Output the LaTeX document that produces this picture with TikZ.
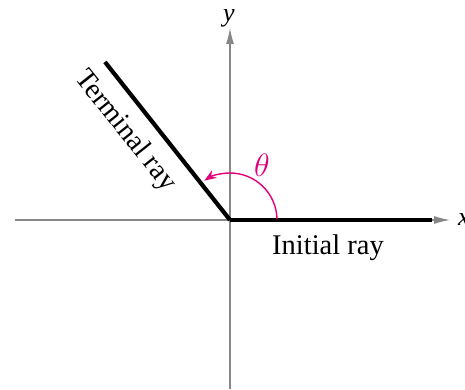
\documentclass[tikz,border=0pt]{standalone}
\usepackage{fontspec}
\setmainfont{Liberation Serif}
\usetikzlibrary{arrows.meta}
\definecolor{axisgray}{RGB}{135,135,135}
\definecolor{arcmag}{RGB}{226,0,122}
\begin{document}
\begin{tikzpicture}[x=1pt,y=1pt,
  axis/.style={draw=axisgray,line width=1.2pt,-{Latex[length=16pt,width=8pt]}},
  ray/.style={draw=black,line width=4.2pt},
  lbl/.style={font=\fontsize{28.5}{32}\selectfont,inner sep=0pt},
  anglearc/.style={draw=arcmag,line width=1.4pt,-{Stealth[length=12pt,width=9pt]}}]
\useasboundingbox (0,0) rectangle (465,389);
\coordinate (O) at (230,169);
\coordinate (xl) at (15,169);
\coordinate (xr) at (450,169);
\coordinate (yb) at (230,0);
\coordinate (yt) at (230,361);
\coordinate (T) at (105,327);
\coordinate (I) at (432,169);
\draw[axis] (xl) -- (xr);
\draw[axis] (yb) -- (yt);
\draw[ray] (O) -- (I);
\draw[ray] (O) -- (T);
\draw[anglearc] ([shift={(1:47)}]O) arc[start angle=1,end angle=123,radius=47];
\node[lbl] (initlbl) at (328,141) {Initial ray};
\node[lbl,rotate=-51.6] (termlbl) at (125,258) {Terminal ray};
\node[lbl,text=arcmag,scale=1.3] (theta) at (262,224) {$\theta$};
\node[lbl,font=\fontsize{26}{30}\selectfont\itshape] (ylbl) at (229,371) {y};
\node[lbl,font=\fontsize{26}{30}\selectfont\itshape,anchor=west] (xlbl) at (458,169) {x};
\end{tikzpicture}
\end{document}
